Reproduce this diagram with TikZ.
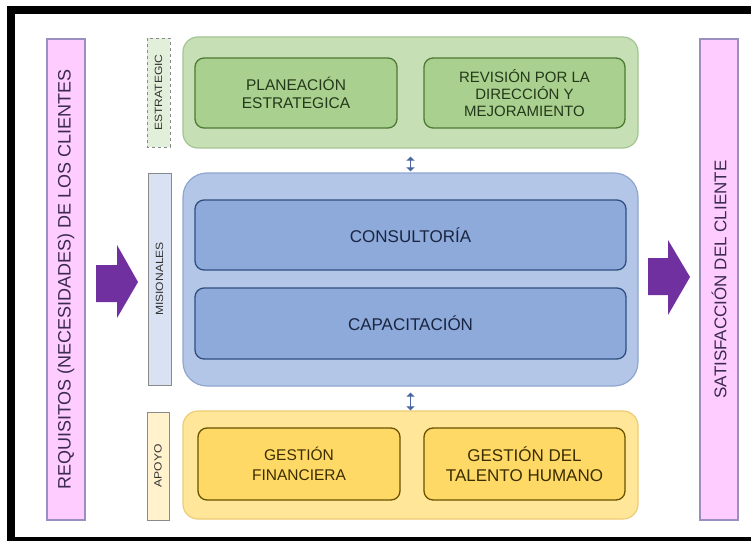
\documentclass[tikz,border=0pt]{standalone}
\usepackage{fontspec}
\setmainfont{Liberation Sans}
\usetikzlibrary{arrows.meta}
\definecolor{gOutF}{HTML}{C6DFB4}
\definecolor{gOutD}{HTML}{A3C493}
\definecolor{gInF}{HTML}{A9D08E}
\definecolor{gInD}{HTML}{4E7A34}
\definecolor{gTxt}{HTML}{24391A}
\definecolor{bOutF}{HTML}{B4C6E7}
\definecolor{bOutD}{HTML}{8FA6CF}
\definecolor{bInF}{HTML}{8EAADB}
\definecolor{bInD}{HTML}{2F4F80}
\definecolor{bTxt}{HTML}{1A2540}
\definecolor{yOutF}{HTML}{FFE699}
\definecolor{yOutD}{HTML}{EFCB72}
\definecolor{yInF}{HTML}{FFD966}
\definecolor{yInD}{HTML}{6B5200}
\definecolor{yTxt}{HTML}{3A2D00}
\definecolor{pinkF}{HTML}{FFCCFF}
\definecolor{pinkD}{HTML}{9A8FC0}
\definecolor{pTxt}{HTML}{3A2A55}
\definecolor{lblE}{HTML}{E2EFDA}
\definecolor{lblM}{HTML}{D9E2F3}
\definecolor{lblA}{HTML}{FFF2CC}
\definecolor{lblD}{HTML}{8A8A8A}
\definecolor{lblT}{HTML}{333333}
\definecolor{purp}{HTML}{7030A0}
\definecolor{dbl}{HTML}{4A66A0}
\tikzset{
  outerbox/.style={draw, line width=1.2pt, rounded corners=15pt, inner sep=0pt},
  innerbox/.style={draw, line width=1.3pt, rounded corners=9pt, inner sep=0pt, align=center},
  sidebar/.style={draw=pinkD, fill=pinkF, line width=1.2pt, rotate=90, inner sep=0pt, text=pTxt,
     font=\fontsize{18}{20}\selectfont},
  lblbar/.style={draw=lblD, line width=0.6pt, rotate=90, inner sep=0pt, text=lblT,
     font=\fontsize{10.5}{11}\selectfont},
  dblarrow/.style={draw=dbl, line width=1.6pt, {Triangle[width=8pt,length=4pt]}-{Triangle[width=8pt,length=4pt]}},
  blockarrow/.style={fill=purp, draw=none}
}
\begin{document}
\begin{tikzpicture}[x=1pt,y=-1pt]
\path[use as bounding box] (0,0) rectangle (751,540);
\fill[white] (0,0) rectangle (751,540);
\begin{scope}
\clip (0,0) rectangle (751,540);
\draw[black, line width=8pt] (11,10) rectangle (800,541);
\end{scope}

% side bars
\node[sidebar, minimum width=481pt, minimum height=38pt] (req) at (66,279.5)
  {REQUISITOS (NECESIDADES) DE LOS CLIENTES};
\node[sidebar, minimum width=481pt, minimum height=38pt, font=\fontsize{17}{19}\selectfont] (sat) at (719,279.5)
  {SATISFACCIÓN DEL CLIENTE};

% label bars
\node[lblbar, fill=lblE, dashed, minimum width=109pt, minimum height=23pt] (lE) at (158.5,92.5)
  {\scalebox{1.15}[1]{ESTRATEGIC}};
\node[lblbar, fill=lblM, minimum width=212pt, minimum height=23pt] (lM) at (159.5,279)
  {\scalebox{1.15}[1]{MISIONALES}};
\node[lblbar, fill=lblA, minimum width=108pt, minimum height=22pt] (lA) at (158,466)
  {\scalebox{1.15}[1]{APOYO}};

% outer boxes
\node[outerbox, draw=gOutD, fill=gOutF, minimum width=455pt, minimum height=111pt] (green) at (410.5,92.5) {};
\node[outerbox, draw=bOutD, fill=bOutF, rounded corners=24pt, minimum width=455pt, minimum height=213pt] (blue) at (410.5,279.5) {};
\node[outerbox, draw=yOutD, fill=yOutF, minimum width=455pt, minimum height=108pt] (yellow) at (410.5,465) {};

% inner boxes
\node[innerbox, draw=gInD, fill=gInF, text=gTxt, minimum width=202pt, minimum height=70pt,
  font=\fontsize{15.5}{18}\selectfont] (plan) at (296,93) {PLANEACIÓN\\ESTRATEGICA};
\node[innerbox, draw=gInD, fill=gInF, text=gTxt, minimum width=201pt, minimum height=70pt,
  font=\fontsize{15}{17}\selectfont] (rev) at (524.5,93) {REVISIÓN POR LA\\DIRECCIÓN Y\\MEJORAMIENTO};
\node[innerbox, draw=bInD, fill=bInF, text=bTxt, minimum width=431pt, minimum height=70pt,
  font=\fontsize{17}{19}\selectfont] (cons) at (410.5,235) {CONSULTORÍA};
\node[innerbox, draw=bInD, fill=bInF, text=bTxt, minimum width=431pt, minimum height=71pt,
  font=\fontsize{17}{19}\selectfont] (cap) at (410.5,323.5) {CAPACITACIÓN};
\node[innerbox, draw=yInD, fill=yInF, text=yTxt, minimum width=202pt, minimum height=72pt,
  font=\fontsize{15.5}{20}\selectfont] (gf) at (299,464) {GESTIÓN\\FINANCIERA};
\node[innerbox, draw=yInD, fill=yInF, text=yTxt, minimum width=201pt, minimum height=72pt,
  font=\fontsize{17}{20}\selectfont] (gth) at (524.5,464) {GESTIÓN DEL\\TALENTO HUMANO};

% double arrows
\draw[dblarrow, shorten <=8pt, shorten >=1pt] (green.south) -- (blue.north);
\draw[dblarrow, shorten <=6pt, shorten >=0pt] (blue.south) -- (yellow.north);

% block arrows
\fill[blockarrow] (96,265) -- (117,265) -- (117,245) -- (138,282) -- (117,318) -- (117,302) -- (96,302) -- cycle;
\fill[blockarrow] (648,258) -- (668,258) -- (668,240) -- (690,277) -- (668,315) -- (668,295) -- (648,295) -- cycle;
\end{tikzpicture}
\end{document}
